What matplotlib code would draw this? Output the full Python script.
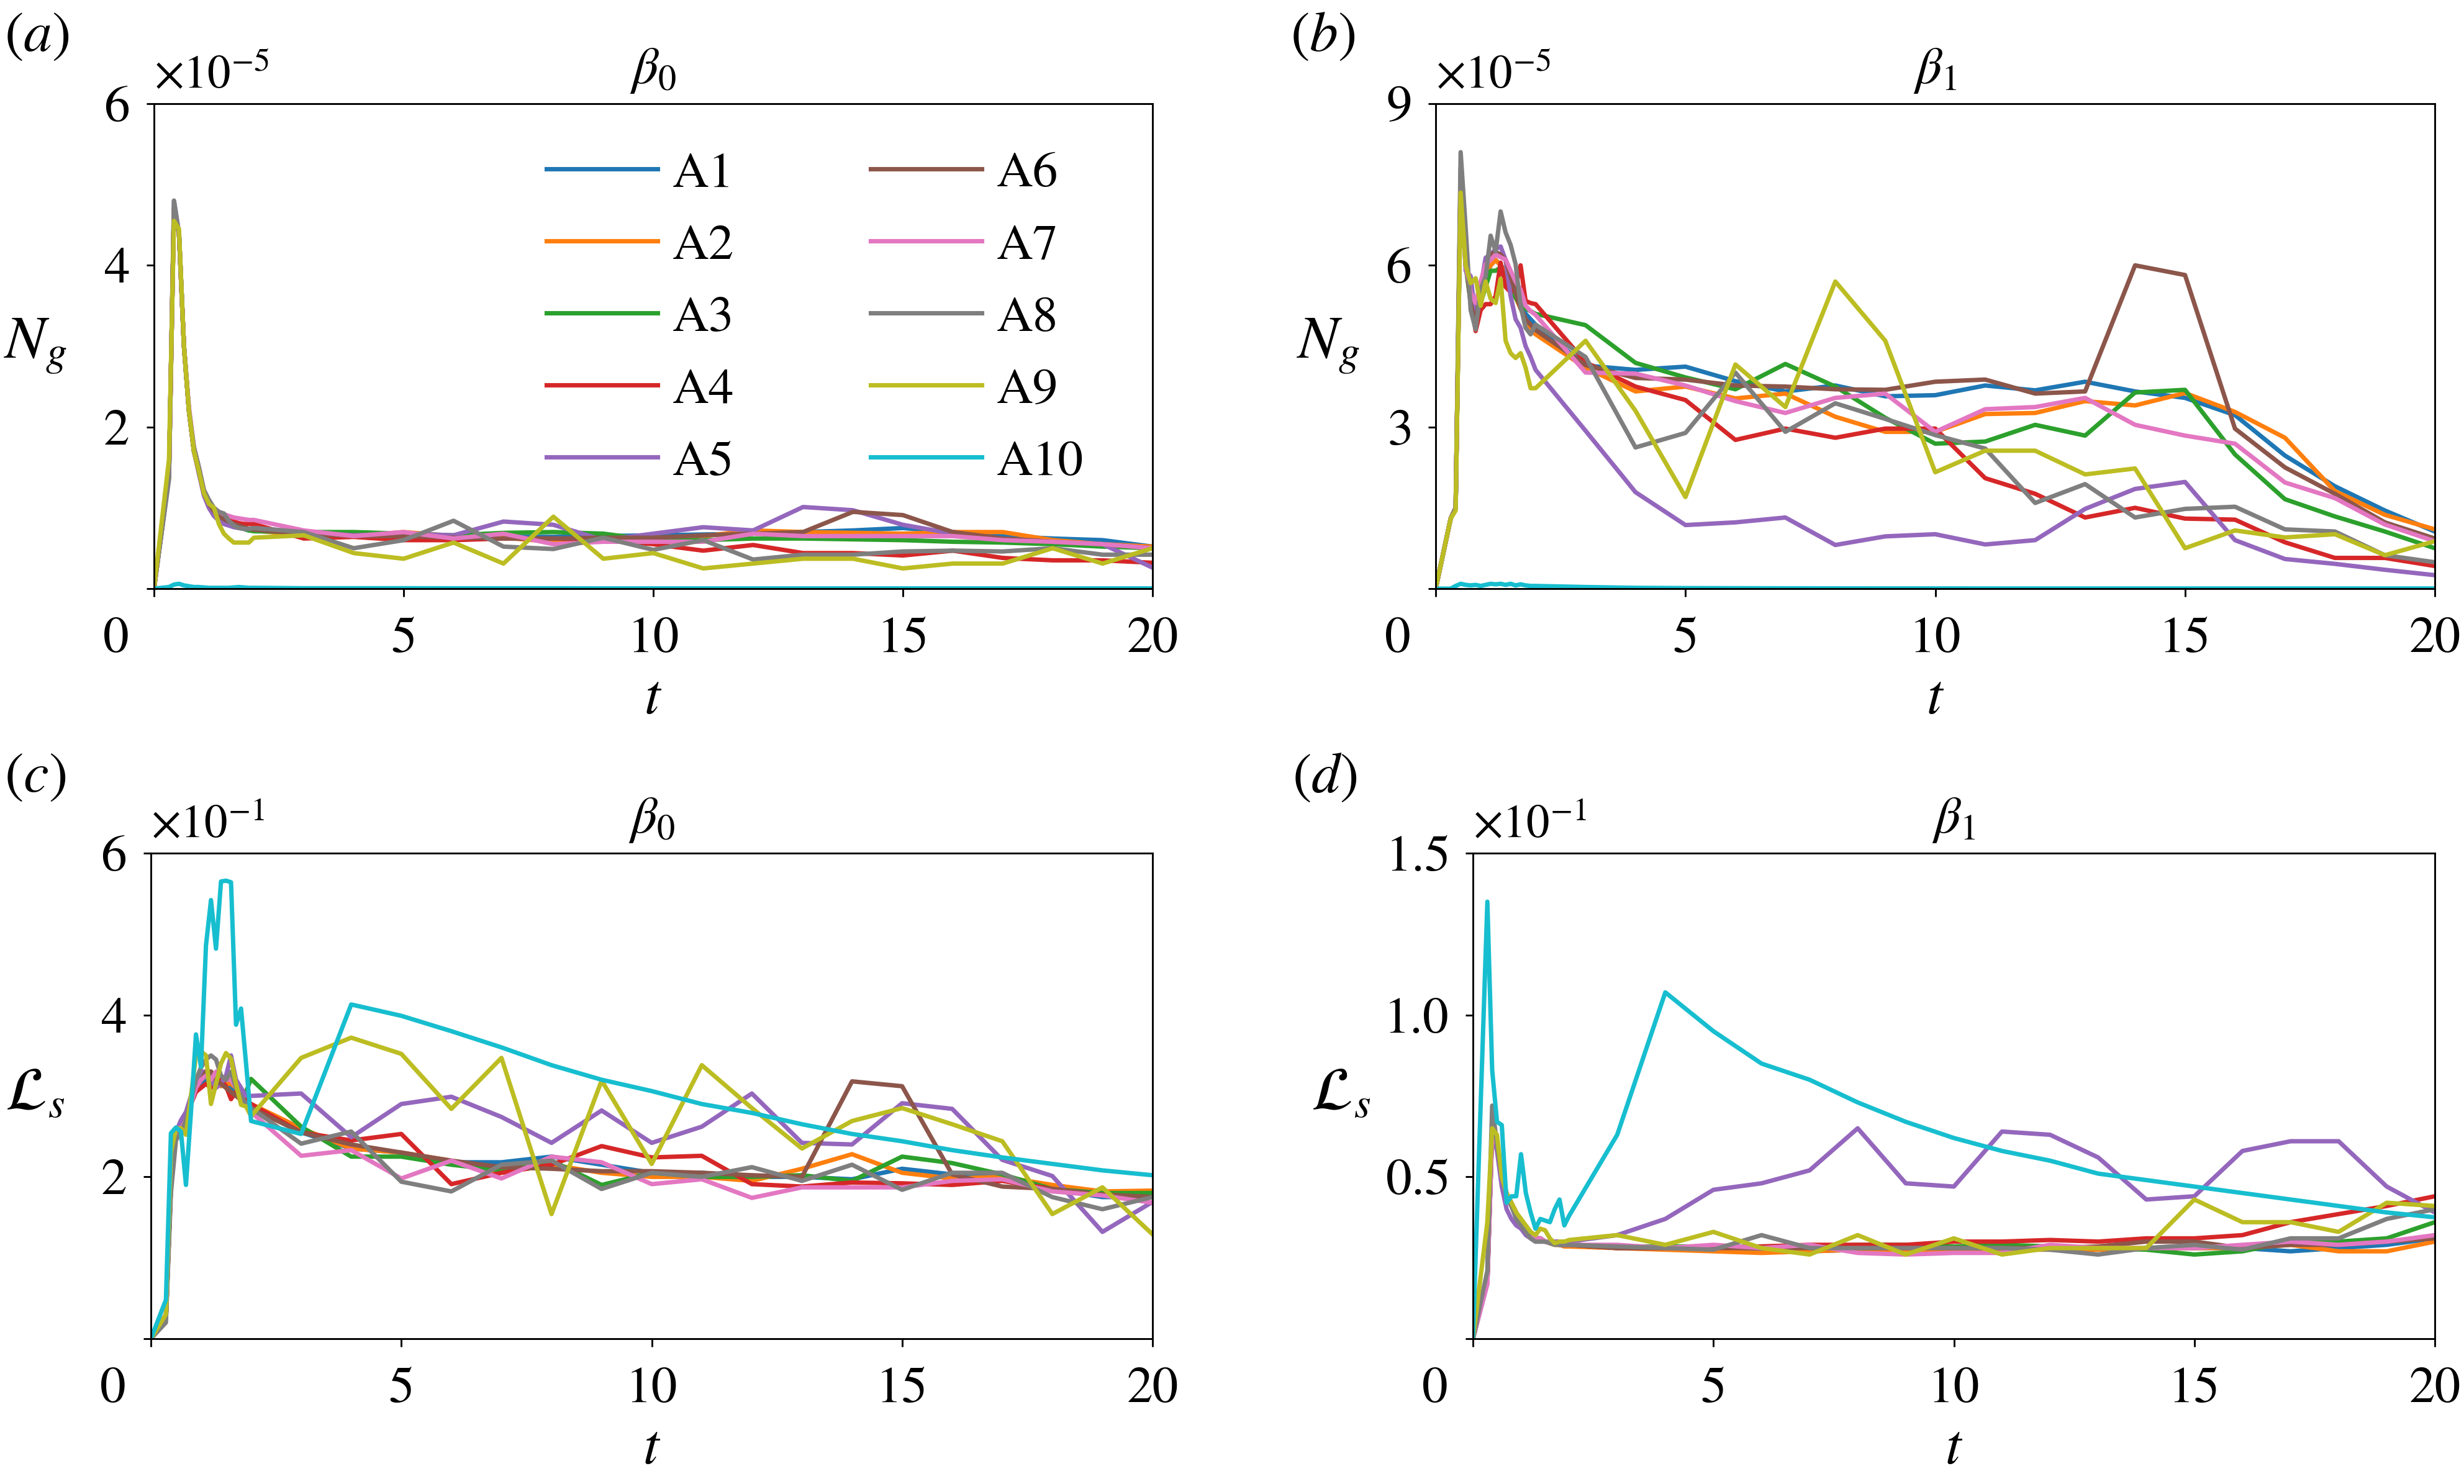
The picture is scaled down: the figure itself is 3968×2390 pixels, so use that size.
import matplotlib
matplotlib.use("Agg")
import matplotlib.pyplot as plt
from matplotlib import ticker

plt.rcParams['font.family'] = ['STIXGeneral', 'DejaVu Serif']
plt.rcParams['mathtext.fontset'] = 'stix'

# ---------------- data ----------------
t = [0, 0.3, 0.4, 0.5, 0.6, 0.7, 0.8, 0.9, 1.0, 1.1, 1.2, 1.3, 1.4, 1.5, 1.6, 1.7, 1.8, 1.9, 2.0,
     3, 4, 5, 6, 7, 8, 9, 10, 11, 12, 13, 14, 15, 16, 17, 18, 19, 20]

series_names = ['A1', 'A2', 'A3', 'A4', 'A5', 'A6', 'A7', 'A8', 'A9', 'A10']
colors = ['#1f77b4', '#ff7f0e', '#2ca02c', '#d62728', '#9467bd',
          '#8c564b', '#e377c2', '#7f7f7f', '#bcbd22', '#17becf']

# (a) N_g, beta_0  (x 1e-5)
ng_b0_scale = 1e-5
ng_b0 = {
    'A1': [0, 1.4, 4.7, 4.4, 3.0, 2.2, 1.7, 1.45, 1.18, 1.05, 0.95, 0.9, 0.85, 0.82, 0.8, 0.77, 0.74, 0.72, 0.72,
           0.68, 0.67, 0.68, 0.64, 0.64, 0.64, 0.65, 0.66, 0.67, 0.68, 0.7, 0.72, 0.75, 0.7, 0.65, 0.62, 0.6, 0.52],
    'A2': [0, 1.4, 4.7, 4.4, 3.0, 2.2, 1.72, 1.45, 1.2, 1.05, 0.96, 0.92, 0.86, 0.84, 0.8, 0.78, 0.75, 0.73, 0.72,
           0.66, 0.65, 0.7, 0.65, 0.63, 0.58, 0.62, 0.63, 0.65, 0.72, 0.7, 0.69, 0.68, 0.7, 0.7, 0.6, 0.55, 0.52],
    'A3': [0, 1.4, 4.7, 4.4, 3.0, 2.2, 1.7, 1.45, 1.18, 1.04, 0.95, 0.9, 0.86, 0.82, 0.79, 0.76, 0.74, 0.72, 0.71,
           0.7, 0.7, 0.68, 0.66, 0.69, 0.7, 0.68, 0.6, 0.6, 0.62, 0.62, 0.61, 0.6, 0.58, 0.57, 0.55, 0.52, 0.5],
    'A4': [0, 1.4, 4.7, 4.4, 3.0, 2.2, 1.7, 1.45, 1.2, 1.06, 0.97, 0.92, 0.88, 0.85, 0.83, 0.81, 0.8, 0.8, 0.8,
           0.62, 0.64, 0.6, 0.6, 0.62, 0.62, 0.6, 0.55, 0.47, 0.54, 0.44, 0.44, 0.41, 0.47, 0.38, 0.35, 0.35, 0.32],
    'A5': [0, 1.4, 4.8, 4.4, 3.0, 2.2, 1.7, 1.42, 1.15, 1.0, 0.9, 0.84, 0.8, 0.78, 0.76, 0.75, 0.74, 0.74, 0.75,
           0.7, 0.66, 0.68, 0.66, 0.83, 0.79, 0.6, 0.68, 0.76, 0.72, 1.01, 0.97, 0.79, 0.68, 0.62, 0.58, 0.55, 0.26],
    'A6': [0, 1.4, 4.7, 4.4, 3.0, 2.2, 1.7, 1.45, 1.18, 1.05, 0.96, 0.9, 0.86, 0.83, 0.8, 0.78, 0.76, 0.74, 0.73,
           0.68, 0.65, 0.65, 0.63, 0.62, 0.62, 0.63, 0.63, 0.66, 0.68, 0.7, 0.95, 0.91, 0.7, 0.62, 0.58, 0.55, 0.5],
    'A7': [0, 1.4, 4.7, 4.4, 3.0, 2.25, 1.75, 1.5, 1.22, 1.08, 1.0, 0.95, 0.92, 0.9, 0.88, 0.87, 0.86, 0.85, 0.85,
           0.72, 0.65, 0.7, 0.62, 0.68, 0.55, 0.58, 0.58, 0.58, 0.68, 0.65, 0.65, 0.65, 0.65, 0.6, 0.58, 0.55, 0.5],
    'A8': [0, 1.35, 4.8, 4.4, 3.0, 2.2, 1.75, 1.5, 1.22, 1.1, 1.0, 0.95, 0.93, 0.84, 0.78, 0.75, 0.74, 0.74, 0.75,
           0.7, 0.5, 0.6, 0.84, 0.52, 0.49, 0.63, 0.48, 0.6, 0.36, 0.42, 0.42, 0.46, 0.47, 0.46, 0.5, 0.42, 0.42],
    'A9': [0, 1.6, 4.55, 4.45, 3.0, 2.2, 1.7, 1.45, 1.18, 1.05, 1.0, 0.8, 0.68, 0.62, 0.57, 0.57, 0.57, 0.57, 0.63,
           0.66, 0.44, 0.37, 0.57, 0.31, 0.89, 0.37, 0.44, 0.25, 0.31, 0.37, 0.37, 0.25, 0.31, 0.31, 0.5, 0.31, 0.5],
    'A10': [0, 0.02, 0.05, 0.06, 0.04, 0.03, 0.02, 0.02, 0.015, 0.01, 0.01, 0.01, 0.01, 0.01, 0.015, 0.02, 0.015, 0.01, 0.01,
            0.005, 0.005, 0.005, 0.004, 0.004, 0.004, 0.003, 0.003, 0.003, 0.003, 0.003, 0.003, 0.003, 0.003, 0.003, 0.003, 0.003, 0.003],
}

# (b) N_g, beta_1  (x 1e-5)
ng_b1_scale = 1e-5
ng_b1 = {
    'A1': [0, 1.3, 1.5, 7.6, 6.0, 5.4, 5.0, 5.5, 5.8, 6.0, 6.1, 6.0, 5.9, 5.7, 5.5, 5.3, 5.1, 5.0, 4.9,
           4.14, 4.06, 4.12, 3.85, 3.66, 3.77, 3.57, 3.59, 3.77, 3.68, 3.84, 3.66, 3.54, 3.22, 2.47, 1.9, 1.45, 1.06],
    'A2': [0, 1.3, 1.5, 7.6, 6.0, 5.4, 5.0, 5.5, 5.8, 6.0, 6.1, 6.0, 5.85, 5.6, 5.4, 5.2, 5.0, 4.8, 4.72,
           4.1, 3.66, 3.75, 3.53, 3.62, 3.19, 2.91, 2.91, 3.24, 3.26, 3.48, 3.4, 3.63, 3.28, 2.8, 1.81, 1.37, 1.1],
    'A3': [0, 1.3, 1.5, 7.5, 6.0, 5.3, 4.96, 5.3, 5.6, 5.9, 5.9, 5.96, 5.78, 5.6, 5.4, 5.25, 5.2, 5.15, 5.1,
           4.89, 4.19, 3.92, 3.7, 4.17, 3.75, 3.17, 2.69, 2.73, 3.04, 2.84, 3.64, 3.69, 2.49, 1.66, 1.34, 1.06, 0.75],
    'A4': [0, 1.3, 1.5, 7.6, 6.2, 5.4, 4.78, 5.17, 5.28, 5.28, 5.43, 6.05, 5.6, 5.5, 5.6, 6.0, 5.34, 5.3, 5.28,
           4.2, 3.75, 3.5, 2.76, 2.97, 2.8, 2.97, 2.97, 2.05, 1.76, 1.32, 1.5, 1.3, 1.28, 0.86, 0.57, 0.57, 0.42],
    'A5': [0, 1.3, 1.5, 7.7, 5.9, 5.8, 5.0, 5.6, 6.14, 6.2, 6.3, 6.35, 6.1, 5.43, 5.0, 4.84, 4.5, 4.3, 4.06,
           2.93, 1.79, 1.18, 1.23, 1.32, 0.81, 0.97, 1.01, 0.82, 0.9, 1.48, 1.85, 1.98, 0.9, 0.55, 0.46, 0.35, 0.25],
    'A6': [0, 1.3, 1.5, 7.8, 6.1, 5.3, 4.9, 5.6, 6.0, 6.2, 6.25, 6.2, 6.1, 5.8, 5.5, 5.2, 5.0, 4.9, 4.8,
           4.15, 3.91, 3.88, 3.77, 3.75, 3.7, 3.69, 3.84, 3.88, 3.62, 3.66, 6.0, 5.82, 2.97, 2.25, 1.76, 1.23, 0.93],
    'A7': [0, 1.3, 1.5, 7.6, 6.0, 5.5, 5.3, 5.7, 6.02, 6.1, 6.2, 6.15, 6.11, 5.9, 5.7, 5.55, 5.25, 5.15, 5.08,
           4.01, 3.99, 3.77, 3.48, 3.26, 3.54, 3.62, 2.91, 3.33, 3.37, 3.54, 3.04, 2.84, 2.69, 1.97, 1.68, 1.19, 0.88],
    'A8': [0, 1.3, 1.5, 8.1, 6.7, 5.17, 4.81, 5.55, 5.79, 6.55, 6.26, 7.0, 6.61, 6.38, 6.02, 5.25, 4.84, 4.72, 4.9,
           4.3, 2.62, 2.89, 4.01, 2.91, 3.44, 3.15, 2.85, 2.6, 1.59, 1.94, 1.32, 1.48, 1.52, 1.1, 1.06, 0.62, 0.49],
    'A9': [0, 1.3, 1.45, 7.35, 6.0, 5.67, 5.76, 5.25, 5.7, 5.38, 5.3, 5.75, 4.6, 4.37, 4.28, 4.37, 4.1, 3.72, 3.72,
           4.6, 3.3, 1.7, 4.16, 3.37, 5.7, 4.6, 2.16, 2.56, 2.56, 2.12, 2.23, 0.75, 1.08, 0.95, 1.01, 0.62, 0.88],
    'A10': [0, 0.0, 0.05, 0.09, 0.07, 0.06, 0.07, 0.05, 0.07, 0.09, 0.08, 0.09, 0.07, 0.09, 0.06, 0.08, 0.06, 0.05, 0.05,
            0.03, 0.015, 0.01, 0.008, 0.006, 0.005, 0.004, 0.004, 0.003, 0.003, 0.003, 0.003, 0.003, 0.003, 0.003, 0.003, 0.003, 0.003],
}

# (c) L_s, beta_0  (x 1e-1)
ls_b0_scale = 1e-1
ls_b0 = {
    'A1': [0, 0.25, 1.9, 2.5, 2.6, 2.75, 2.95, 3.1, 3.15, 3.2, 3.25, 3.2, 3.15, 3.12, 3.1, 3.05, 3.0, 2.95, 2.9,
           2.55, 2.35, 2.3, 2.18, 2.18, 2.25, 2.15, 2.05, 2.05, 2.0, 2.0, 1.97, 2.1, 2.03, 2.0, 1.85, 1.75, 1.75],
    'A2': [0, 0.25, 1.9, 2.5, 2.6, 2.7, 2.95, 3.1, 3.2, 3.25, 3.3, 3.2, 3.12, 3.15, 3.15, 3.1, 3.0, 2.95, 2.9,
           2.6, 2.35, 2.3, 2.2, 2.05, 2.15, 2.05, 2.0, 2.0, 1.95, 2.1, 2.28, 2.05, 1.98, 2.0, 1.9, 1.82, 1.83],
    'A3': [0, 0.25, 1.95, 2.55, 2.65, 2.75, 2.95, 3.1, 3.2, 3.25, 3.3, 3.2, 3.15, 3.1, 3.05, 3.0, 3.0, 3.05, 3.21,
           2.62, 2.25, 2.25, 2.15, 2.08, 2.2, 1.9, 2.05, 2.0, 2.0, 2.02, 1.95, 2.25, 2.17, 2.03, 1.85, 1.8, 1.8],
    'A4': [0, 0.25, 1.9, 2.5, 2.6, 2.7, 2.9, 3.05, 3.1, 3.15, 3.1, 3.15, 3.2, 3.12, 2.96, 3.05, 3.0, 2.95, 2.9,
           2.55, 2.45, 2.53, 1.91, 2.05, 2.15, 2.38, 2.24, 2.26, 1.91, 1.88, 1.93, 1.92, 1.9, 1.95, 1.85, 1.78, 1.75],
    'A5': [0, 0.25, 1.9, 2.55, 2.7, 2.8, 3.0, 3.2, 3.3, 3.3, 3.2, 3.1, 3.15, 3.25, 3.5, 3.2, 3.1, 3.0, 3.0,
           3.03, 2.49, 2.9, 2.99, 2.74, 2.42, 2.82, 2.42, 2.62, 3.03, 2.42, 2.4, 2.91, 2.84, 2.21, 2.01, 1.32, 1.69],
    'A6': [0, 0.25, 1.9, 2.5, 2.6, 2.7, 2.9, 3.1, 3.2, 3.3, 3.3, 3.2, 3.15, 3.1, 3.05, 3.0, 2.95, 2.9, 2.85,
           2.55, 2.4, 2.3, 2.2, 2.12, 2.1, 2.07, 2.07, 2.05, 2.02, 2.0, 3.18, 3.12, 2.03, 1.88, 1.85, 1.78, 1.75],
    'A7': [0, 0.3, 2.0, 2.6, 2.6, 2.7, 2.9, 3.1, 3.2, 3.25, 3.2, 3.3, 3.25, 3.2, 3.2, 3.1, 3.0, 2.9, 2.8,
           2.26, 2.33, 1.98, 2.2, 1.98, 2.25, 2.18, 1.91, 1.97, 1.74, 1.87, 1.87, 1.87, 1.95, 1.97, 1.82, 1.77, 1.68],
    'A8': [0, 0.2, 1.8, 2.45, 2.55, 2.7, 2.95, 3.2, 3.35, 3.45, 3.5, 3.45, 3.25, 3.2, 3.3, 3.1, 3.0, 2.9, 2.85,
           2.41, 2.56, 1.94, 1.82, 2.15, 2.2, 1.85, 2.05, 2.0, 2.12, 1.95, 2.15, 1.84, 2.05, 2.05, 1.75, 1.6, 1.75],
    'A9': [0, 0.3, 2.3, 2.6, 2.6, 2.52, 3.0, 3.5, 3.55, 3.5, 2.9, 3.15, 3.4, 3.53, 3.46, 3.15, 2.89, 2.87, 2.75,
           3.47, 3.72, 3.52, 2.84, 3.47, 1.54, 3.19, 2.16, 3.38, 2.85, 2.35, 2.69, 2.85, 2.65, 2.44, 1.54, 1.87, 1.29],
    'A10': [0, 0.48, 2.54, 2.61, 2.56, 1.9, 2.8, 3.76, 3.36, 4.86, 5.42, 4.82, 5.65, 5.66, 5.64, 3.88, 4.08, 3.4, 2.69,
            2.53, 4.13, 3.99, 3.8, 3.6, 3.38, 3.2, 3.06, 2.9, 2.79, 2.65, 2.53, 2.44, 2.33, 2.24, 2.16, 2.08, 2.02],
}

# (d) L_s, beta_1  (x 1e-1)
ls_b1_scale = 1e-1
ls_b1 = {
    'A1': [0, 0.18, 0.65, 0.6, 0.5, 0.44, 0.41, 0.38, 0.36, 0.34, 0.32, 0.31, 0.31, 0.3, 0.3, 0.295, 0.29, 0.29, 0.29,
           0.285, 0.28, 0.275, 0.275, 0.27, 0.275, 0.275, 0.28, 0.28, 0.28, 0.275, 0.28, 0.28, 0.28, 0.27, 0.28, 0.29, 0.31],
    'A2': [0, 0.18, 0.64, 0.6, 0.5, 0.44, 0.41, 0.38, 0.36, 0.34, 0.32, 0.31, 0.305, 0.3, 0.295, 0.29, 0.29, 0.285, 0.285,
           0.28, 0.275, 0.27, 0.265, 0.27, 0.275, 0.275, 0.27, 0.275, 0.275, 0.275, 0.28, 0.28, 0.28, 0.29, 0.27, 0.27, 0.30],
    'A3': [0, 0.18, 0.65, 0.6, 0.5, 0.44, 0.41, 0.38, 0.36, 0.34, 0.32, 0.31, 0.31, 0.3, 0.3, 0.295, 0.29, 0.29, 0.29,
           0.285, 0.285, 0.285, 0.285, 0.285, 0.29, 0.29, 0.285, 0.29, 0.285, 0.28, 0.275, 0.26, 0.27, 0.3, 0.3, 0.31, 0.36],
    'A4': [0, 0.18, 0.66, 0.6, 0.5, 0.45, 0.42, 0.39, 0.36, 0.34, 0.32, 0.31, 0.31, 0.3, 0.3, 0.295, 0.29, 0.29, 0.29,
           0.28, 0.28, 0.28, 0.285, 0.29, 0.29, 0.29, 0.3, 0.3, 0.305, 0.3, 0.31, 0.31, 0.32, 0.36, 0.385, 0.41, 0.44],
    'A5': [0, 0.17, 0.64, 0.58, 0.47, 0.4, 0.37, 0.35, 0.34, 0.32, 0.31, 0.3, 0.3, 0.3, 0.3, 0.3, 0.3, 0.3, 0.3,
           0.32, 0.37, 0.46, 0.48, 0.52, 0.65, 0.48, 0.47, 0.64, 0.63, 0.56, 0.43, 0.44, 0.58, 0.61, 0.61, 0.47, 0.39],
    'A6': [0, 0.18, 0.65, 0.6, 0.5, 0.44, 0.41, 0.38, 0.36, 0.34, 0.32, 0.31, 0.31, 0.3, 0.3, 0.295, 0.29, 0.29, 0.29,
           0.28, 0.28, 0.28, 0.28, 0.28, 0.28, 0.28, 0.28, 0.28, 0.28, 0.285, 0.3, 0.3, 0.28, 0.29, 0.29, 0.3, 0.31],
    'A7': [0, 0.17, 0.63, 0.6, 0.5, 0.44, 0.41, 0.38, 0.36, 0.34, 0.32, 0.31, 0.31, 0.3, 0.3, 0.295, 0.29, 0.29, 0.29,
           0.29, 0.28, 0.29, 0.28, 0.29, 0.265, 0.26, 0.265, 0.265, 0.29, 0.28, 0.28, 0.28, 0.29, 0.3, 0.29, 0.3, 0.32],
    'A8': [0, 0.21, 0.72, 0.6, 0.5, 0.44, 0.41, 0.37, 0.35, 0.33, 0.31, 0.3, 0.3, 0.3, 0.295, 0.29, 0.29, 0.29, 0.29,
           0.285, 0.28, 0.275, 0.32, 0.28, 0.28, 0.28, 0.28, 0.28, 0.275, 0.26, 0.28, 0.29, 0.275, 0.31, 0.31, 0.37, 0.4],
    'A9': [0, 0.36, 0.65, 0.63, 0.5, 0.45, 0.42, 0.39, 0.37, 0.35, 0.33, 0.32, 0.34, 0.335, 0.31, 0.295, 0.3, 0.3, 0.305,
           0.32, 0.29, 0.33, 0.28, 0.26, 0.32, 0.26, 0.31, 0.26, 0.28, 0.28, 0.28, 0.43, 0.36, 0.36, 0.33, 0.42, 0.41],
    'A10': [0, 1.35, 0.83, 0.67, 0.66, 0.42, 0.44, 0.44, 0.57, 0.45, 0.39, 0.34, 0.37, 0.365, 0.36, 0.4, 0.43, 0.35, 0.38,
            0.63, 1.07, 0.95, 0.85, 0.8, 0.73, 0.67, 0.62, 0.58, 0.55, 0.51, 0.49, 0.47, 0.45, 0.43, 0.41, 0.39, 0.375],
}

x_ticks = [0, 5, 10, 15, 20]
yticks_a = [0, 2, 4, 6]
yticks_b = [0, 3, 6, 9]
yticks_c = [0, 2, 4, 6]
yticks_d = [0, 0.5, 1.0, 1.5]

# ---------------- style ----------------
W, H = 3968, 2390
DPI = 300
TICK_FS = 20
LABEL_FS = 22
YLABEL_FS = 23.5
TITLE_FS = 20
LEG_FS = 19.5
OFF_FS = 18
TICK_LEN = 3.0
XPAD = 8.0
YPAD = 6.6
LW = 1.7


class NoZeroSci(ticker.ScalarFormatter):
    def __call__(self, x, pos=None):
        if abs(x) < 1e-30:
            return ''
        return super().__call__(x, pos)


fig = plt.figure(figsize=(W / DPI, H / DPI), dpi=DPI)


def px_axes(l, r, top, bot):
    return fig.add_axes([l / W, 1 - bot / H, (r - l) / W, (bot - top) / H])


ax_a = px_axes(248, 1856, 167, 948)
ax_b = px_axes(2312, 3921, 167, 948)
ax_c = px_axes(243, 1856, 1374, 2156)
ax_d = px_axes(2372, 3921, 1374, 2156)


def setup(ax, data, scale, yticks, ylabel, title, label_x):
    for name, col in zip(series_names, colors):
        ax.plot(t, [v * scale for v in data[name]], color=col, lw=LW, label=name)
    ax.set_xlim(0, 20)
    ax.set_ylim(yticks[0] * scale, yticks[-1] * scale)
    ax.xaxis.set_major_locator(ticker.FixedLocator(x_ticks))
    ax.xaxis.set_major_formatter(ticker.FuncFormatter(lambda v, p: '' if v == 0 else f'{v:g}'))
    ax.yaxis.set_major_locator(ticker.FixedLocator([v * scale for v in yticks]))
    fmt = NoZeroSci(useMathText=True)
    fmt.set_powerlimits((0, 0))
    ax.yaxis.set_major_formatter(fmt)
    ax.yaxis.get_offset_text().set_fontsize(OFF_FS)
    ax.yaxis.OFFSETTEXTPAD = 6
    ax.tick_params(axis='both', direction='out', length=TICK_LEN, width=0.7,
                   labelsize=TICK_FS, top=False, right=False)
    ax.tick_params(axis='x', pad=XPAD)
    ax.tick_params(axis='y', pad=YPAD)
    for s in ax.spines.values():
        s.set_linewidth(0.7)
    ax.set_xlabel(r'$t$', fontsize=LABEL_FS, labelpad=4.5)
    ax.set_ylabel(ylabel, fontsize=YLABEL_FS, rotation=0, ha='center', va='center')
    ax.yaxis.set_label_coords(label_x, 0.5)
    ax.set_title(title, fontsize=TITLE_FS, pad=8)
    ax.annotate('0', xy=(0, 0), xycoords='axes fraction',
                xytext=(-(TICK_LEN + YPAD), -(TICK_LEN + XPAD)), textcoords='offset points',
                ha='right', va='top', fontsize=TICK_FS)


setup(ax_a, ng_b0, ng_b0_scale, yticks_a, r'$N_g$', r'$\beta_0$', -0.119)
setup(ax_b, ng_b1, ng_b1_scale, yticks_b, r'$N_g$', r'$\beta_1$', -0.1075)
setup(ax_c, ls_b0, ls_b0_scale, yticks_c, r'$\mathcal{L}_s$', r'$\beta_0$', -0.116)
setup(ax_d, ls_b1, ls_b1_scale, yticks_d, r'$\mathcal{L}_s$', r'$\beta_1$', -0.1375)

ax_a.legend(loc='upper left', bbox_to_anchor=(0.393, 0.902), ncol=2, frameon=False,
            fontsize=LEG_FS, handlelength=2.2, handletextpad=0.3, columnspacing=2.7,
            labelspacing=0.52, borderpad=0, borderaxespad=0)

for lab, (x, y) in zip(['(a)', '(b)', '(c)', '(d)'],
                       [(59, 61), (2130, 61), (57, 1254), (2133, 1254)]):
    fig.text(x / W, 1 - y / H, r'$(%s)$' % lab[1], fontsize=LABEL_FS, ha='center', va='center')

fig.savefig('out.png', dpi=DPI)
